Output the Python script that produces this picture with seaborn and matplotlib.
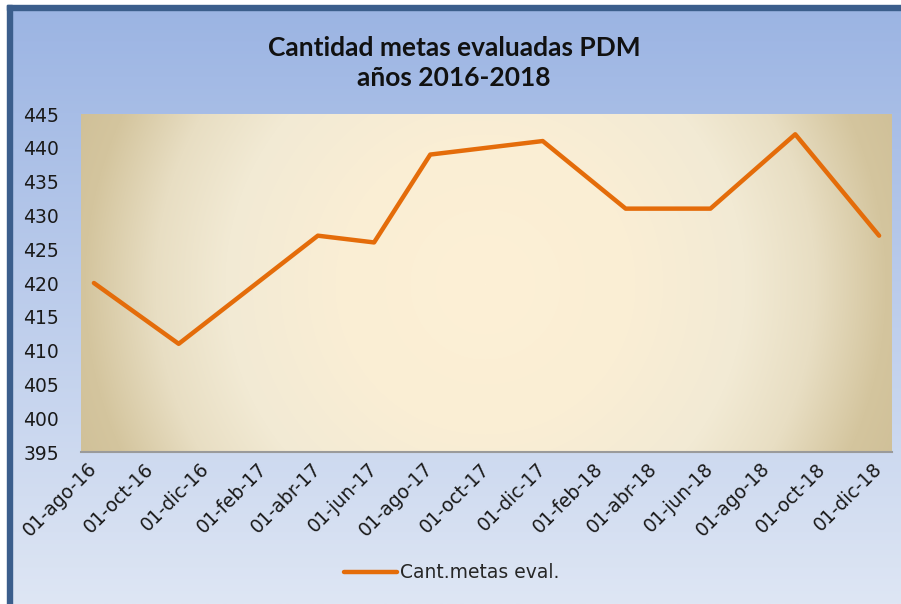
import numpy as np
import pandas as pd
import matplotlib
matplotlib.use("Agg")
import matplotlib.pyplot as plt
from matplotlib.patches import Rectangle
import seaborn as sns

# datos
fechas = ["2016-08-01", "2016-11-01", "2017-04-01", "2017-06-01", "2017-08-01",
          "2017-12-01", "2018-03-01", "2018-06-01", "2018-09-01", "2018-12-01"]
valores = [420, 411, 427, 426, 439, 441, 431, 431, 442, 427]

ticks_x = ["2016-08-01", "2016-10-01", "2016-12-01", "2017-02-01", "2017-04-01",
           "2017-06-01", "2017-08-01", "2017-10-01", "2017-12-01", "2018-02-01",
           "2018-04-01", "2018-06-01", "2018-08-01", "2018-10-01", "2018-12-01"]
etiquetas_x = ["01-ago-16", "01-oct-16", "01-dic-16", "01-feb-17", "01-abr-17",
               "01-jun-17", "01-ago-17", "01-oct-17", "01-dic-17", "01-feb-18",
               "01-abr-18", "01-jun-18", "01-ago-18", "01-oct-18", "01-dic-18"]
ticks_y = [395, 400, 405, 410, 415, 420, 425, 430, 435, 440, 445]

titulo = "Cantidad metas evaluadas PDM\naños 2016-2018"
serie = "Cant.metas eval."

df = pd.DataFrame({"fecha": pd.to_datetime(fechas), "valor": valores})

sns.set_style("white")
plt.rcParams["font.family"] = ["DejaVu Sans"]

W, H = 901, 604
fig = plt.figure(figsize=(W / 100, H / 100), dpi=100)
fig.patch.set_facecolor("white")

# fondo del grafico (degradado azul)
bg = fig.add_axes([0, 0, 1, 1], zorder=-2)
bg.axis("off")
ys = np.linspace(0, 1, 300)
top = np.array([155, 180, 227]) / 255
bot = np.array([222, 230, 244]) / 255
grad = top[None, :] * (1 - ys[:, None]) + bot[None, :] * ys[:, None]
bg.imshow(grad[:, None, :], extent=[7 / W, 1, 0, 1 - 5 / H], aspect="auto",
          transform=bg.transAxes)
bg.set_xlim(0, 1)
bg.set_ylim(0, 1)
bg.add_patch(Rectangle((7 / W, 1 - 10 / H), 1, 5 / H, color="#3b5e8c", transform=bg.transAxes))
bg.add_patch(Rectangle((7 / W, 0), 5 / W, 1 - 5 / H, color="#3b5e8c", transform=bg.transAxes))

# area de trazado
L, R, T, B = 81, 892, 114, 452
ax = fig.add_axes([L / W, 1 - B / H, (R - L) / W, (B - T) / H])

pw, ph = R - L, B - T
yy, xx = np.mgrid[0:ph, 0:pw]
d = np.hypot(xx - 404, yy - 170)
stops = [0, 150, 260, 330, 400, 460]
cols = np.array([[253, 240, 214], [250, 238, 212], [242, 234, 212],
                 [232, 222, 195], [212, 197, 158], [206, 190, 150]]) / 255
img = np.stack([np.interp(d, stops, cols[:, i]) for i in range(3)], axis=-1)
ax.imshow(img, extent=[0, 1, 0, 1], transform=ax.transAxes, aspect="auto", zorder=0)

sns.lineplot(data=df, x="fecha", y="valor", ax=ax, color="#E46C0A", linewidth=3.2,
             label=serie, zorder=3)

ax.set_xlim(pd.Timestamp(fechas[0]) - pd.Timedelta(days=14),
            pd.Timestamp(fechas[-1]) + pd.Timedelta(days=14))
ax.set_ylim(395, 445)
ax.set_yticks(ticks_y)
ax.set_yticklabels([str(v) for v in ticks_y], fontsize=13.5, color="#1a1a1a")
ax.set_xticks(pd.to_datetime(ticks_x))
ax.set_xticklabels(etiquetas_x, rotation=45, ha="right", va="center",
                   rotation_mode="anchor", fontsize=13.5, color="#1a1a1a")
ax.tick_params(axis="y", length=0, pad=16)
ax.tick_params(axis="x", length=0, pad=10)
ax.set_xlabel("")
ax.set_ylabel("")
for s in ["top", "right", "left"]:
    ax.spines[s].set_visible(False)
ax.spines["bottom"].set_color("#9a9a9a")
ax.spines["bottom"].set_linewidth(1.5)
ax.grid(False)

ax.get_legend().remove()
fig.legend(loc="center", bbox_to_anchor=(452 / W, 1 - 573 / H), frameon=False,
           fontsize=13.5, handlelength=2.8, handletextpad=0.2)

fig.text(454 / W, 1 - 63 / H, titulo, ha="center", va="center", fontsize=19,
         fontweight="bold", family=["Lato", "DejaVu Sans"], linespacing=1.3,
         color="#111111")

fig.savefig("out.png", dpi=100)
